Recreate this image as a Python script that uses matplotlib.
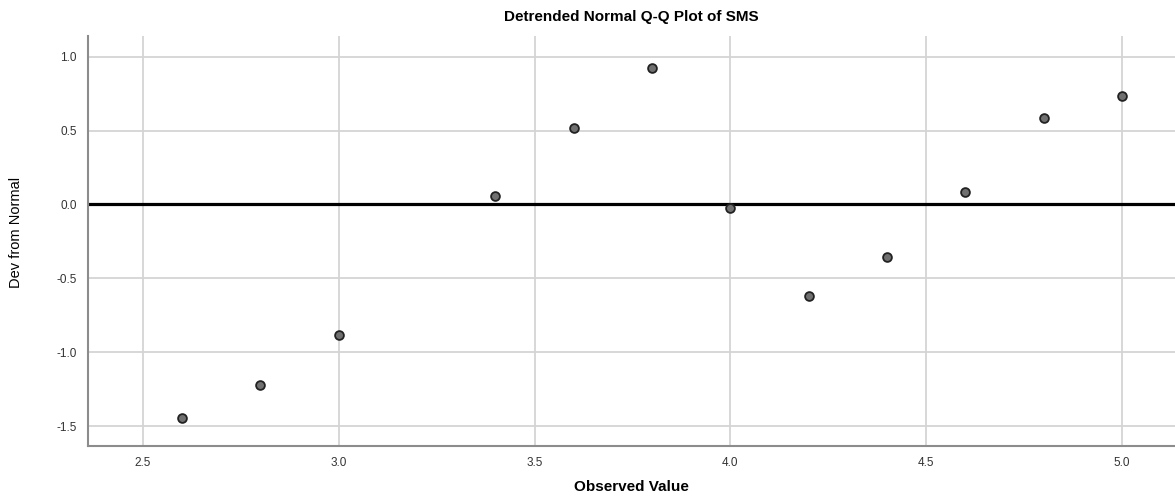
import numpy as np
import matplotlib
matplotlib.use("Agg")
import matplotlib.pyplot as plt

plt.rcParams['font.family'] = ['Liberation Sans', 'DejaVu Sans']

observed = [2.6, 2.8, 3.0, 3.4, 3.6, 3.8, 4.0, 4.2, 4.4, 4.6, 4.8, 5.0]
dev = [-1.446, -1.225, -0.882, 0.057, 0.517, 0.923, -0.027, -0.622, -0.356, 0.086, 0.583, 0.732]
xticks = [2.5, 3.0, 3.5, 4.0, 4.5, 5.0]
yticks = [-1.5, -1.0, -0.5, 0.0, 0.5, 1.0]

fig = plt.figure(figsize=(11.75, 4.97), dpi=100)
ax = fig.add_axes([88 / 1175, 1 - 446 / 497, (1175 - 88) / 1175, (446 - 36) / 497])

ax.set_xlim(2.36, 5.135)
ax.set_ylim(-1.635, 1.14)
ax.set_xticks(xticks)
ax.set_yticks(yticks)
ax.set_xticklabels(["%.1f" % t for t in xticks])
ax.set_yticklabels(["%.1f" % t for t in yticks])
ax.tick_params(length=0, labelsize=8.5, colors='#333333', pad=8)
ax.grid(True, color='#d4d4d4', linewidth=1.3)
ax.set_axisbelow(True)

for s in ['top', 'right']:
    ax.spines[s].set_visible(False)
for s in ['left', 'bottom']:
    ax.spines[s].set_color('#8c8c8c')
    ax.spines[s].set_linewidth(1.5)

ax.axhline(0, color='black', linewidth=2.3, zorder=2)
ax.scatter(observed, dev, s=40, facecolor='#707070', edgecolor='#222222', linewidth=1.3, zorder=3)

ax.set_title("Detrended Normal Q-Q Plot of SMS", fontsize=11, fontweight='bold', pad=11)
ax.set_xlabel("Observed Value", fontsize=11, fontweight='bold', labelpad=8)
ax.set_ylabel("Dev from Normal", fontsize=10.5, va='center')
ax.yaxis.set_label_coords(-0.066, 0.52)

fig.savefig("out.png", dpi=100)
